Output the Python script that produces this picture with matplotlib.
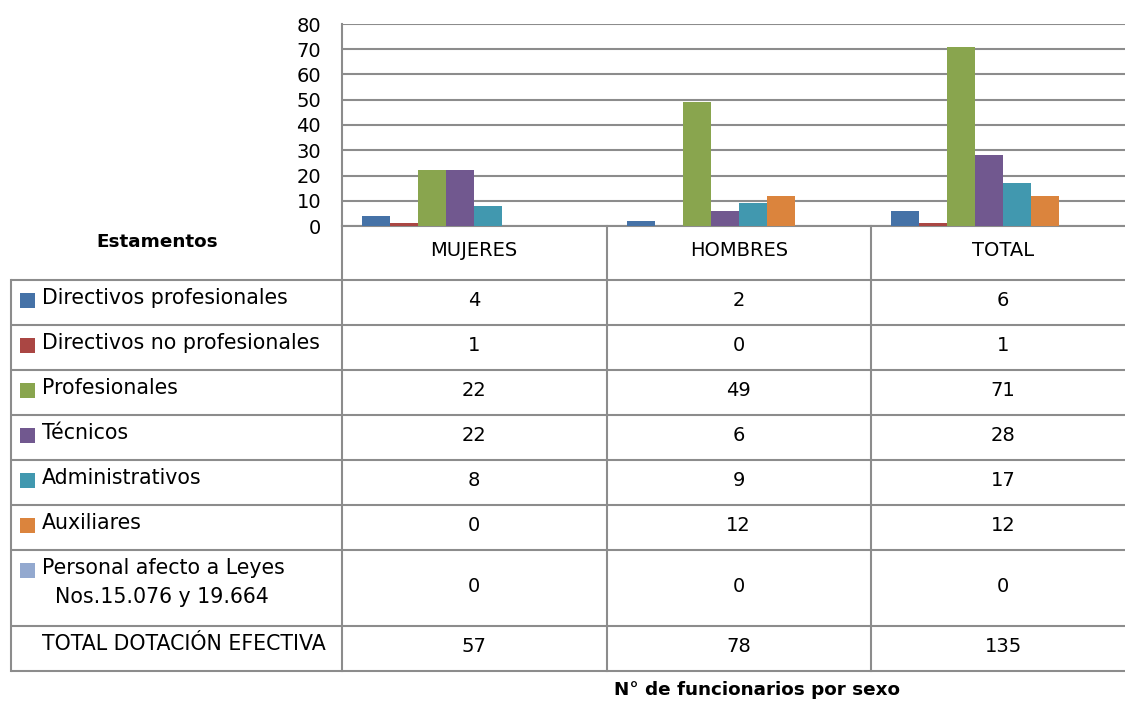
import numpy as np
import matplotlib
matplotlib.use("Agg")
import matplotlib.pyplot as plt
from matplotlib.patches import Rectangle

# data
groups = ["MUJERES", "HOMBRES", "TOTAL"]
series = [
    "Directivos profesionales",
    "Directivos no profesionales",
    "Profesionales",
    "Técnicos",
    "Administrativos",
    "Auxiliares",
    "Personal afecto a Leyes\n  Nos.15.076 y 19.664",
]
mujeres = [4, 1, 22, 22, 8, 0, 0]
hombres = [2, 0, 49, 6, 9, 12, 0]
total = [6, 1, 71, 28, 17, 12, 0]
total_row_label = "TOTAL DOTACIÓN EFECTIVA"
y_ticks = [0, 10, 20, 30, 40, 50, 60, 70, 80]

colors = ["#4572A7", "#AA4643", "#89A54E", "#71588F", "#4198AF", "#DB843D", "#93A9CF"]
GRID = "#8c8c8c"

W, H = 1125, 702
PLOT_L, COL_W = 342, 264.5
Y0, Y80 = 226, 24
ROW_TOP = 280
ROW_H = [45, 45, 45, 45, 45, 45, 76, 45]
FS = 14
FS_LABEL = 14.8
FS_BOLD = 13.2


def main() -> None:
    fig = plt.figure(figsize=(W / 100, H / 100), dpi=100)

    # bar chart
    ax = fig.add_axes([PLOT_L / W, 1 - Y0 / H, 3 * COL_W / W, (Y0 - Y80) / H])
    values = np.array([mujeres, hombres, total]).T
    n_slots = len(series) + 1
    bw = 28 / COL_W
    start = (1 - n_slots * bw) / 2
    x = np.arange(len(groups))
    for i, vals in enumerate(values):
        ax.bar(x + start + i * bw, vals, width=bw, align="edge", color=colors[i], zorder=3)
    ax.set_xlim(0, len(groups))
    ax.set_ylim(0, 80)
    ax.set_yticks(y_ticks)
    ax.set_yticklabels([str(t) for t in y_ticks], fontsize=FS)
    ax.tick_params(axis="y", length=0, pad=15)
    ax.set_xticks([])
    ax.grid(axis="y", color=GRID, linewidth=1.5, zorder=0)
    for side in ["top", "right"]:
        ax.spines[side].set_visible(False)
    for side in ["left", "bottom"]:
        ax.spines[side].set_color(GRID)
        ax.spines[side].set_linewidth(1.5)

    # data table, overlay in pixel coords
    tb = fig.add_axes([0, 0, 1, 1])
    tb.set_xlim(0, W)
    tb.set_ylim(H, 0)
    tb.axis("off")

    row_edges = np.concatenate([[ROW_TOP], ROW_TOP + np.cumsum(ROW_H)])
    bottom = row_edges[-1]
    col_x = [PLOT_L + k * COL_W for k in range(len(groups) + 1)]
    lw = 1.5
    for yy in row_edges:
        tb.plot([11, W], [yy, yy], color=GRID, lw=lw, solid_capstyle="butt")
    tb.plot([11, 11], [ROW_TOP, bottom], color=GRID, lw=lw)
    for cx in col_x:
        tb.plot([cx, cx], [Y0, bottom], color=GRID, lw=lw)

    for k, g in enumerate(groups):
        tb.text(col_x[k] + COL_W / 2, (Y0 + ROW_TOP) / 2 - 2, g,
                ha="center", va="center", fontsize=FS)

    tb.text(157, 242, "Estamentos", ha="center", va="center",
            fontsize=FS_BOLD, fontweight="bold")

    cols = [mujeres, hombres, total]
    for r, name in enumerate(series):
        y_top, y_bot = row_edges[r], row_edges[r + 1]
        yc = (y_top + y_bot) / 2
        ty = y_top + 19
        tb.add_patch(Rectangle((20, ty - 6), 15, 15, color=colors[r], lw=0))
        if "\n" in name:
            tb.text(42, ty - 11, name, ha="left", va="top", fontsize=FS_LABEL, linespacing=1.55)
        else:
            tb.text(42, ty - 1, name, ha="left", va="center", fontsize=FS_LABEL)
        for k in range(len(groups)):
            tb.text(col_x[k] + COL_W / 2, yc - 2, str(cols[k][r]),
                    ha="center", va="center", fontsize=FS)

    # total row
    y_top, y_bot = row_edges[-2], row_edges[-1]
    tb.text(42, y_top + 18, total_row_label, ha="left", va="center", fontsize=FS_LABEL)
    for k in range(len(groups)):
        tb.text(col_x[k] + COL_W / 2, (y_top + y_bot) / 2 - 2, str(sum(cols[k])),
                ha="center", va="center", fontsize=FS)

    tb.text(757, 690, "N° de funcionarios por sexo", ha="center", va="center",
            fontsize=FS_BOLD, fontweight="bold")

    fig.savefig("out.png", dpi=100)


if __name__ == "__main__":
    main()
